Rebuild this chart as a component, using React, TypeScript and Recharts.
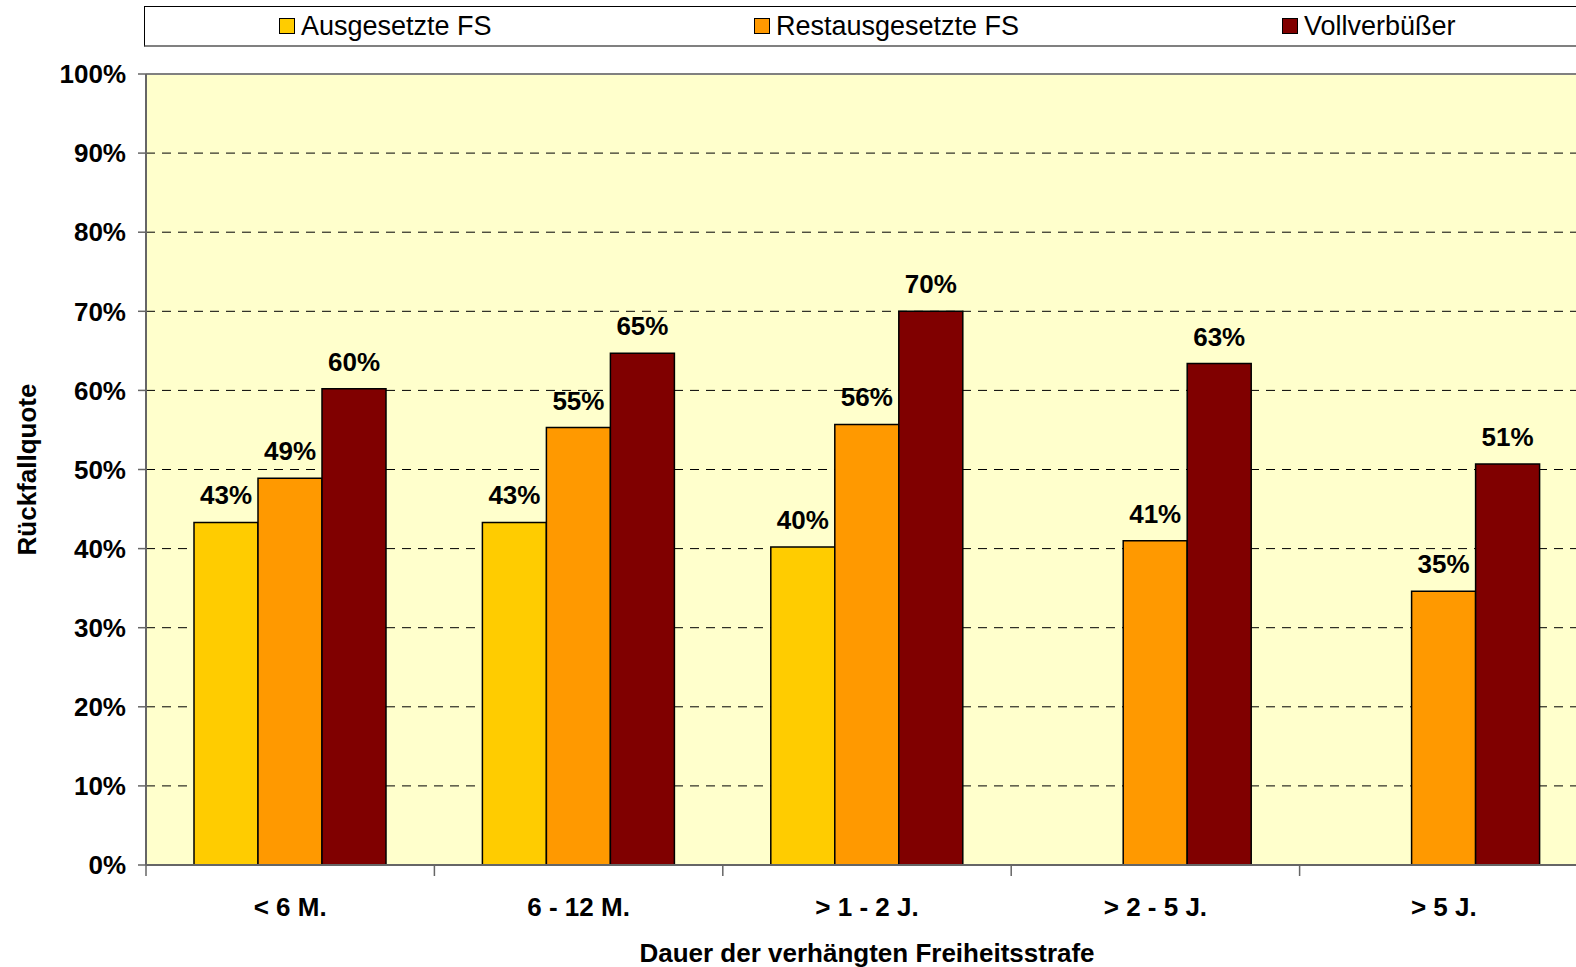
import React from "react"
import { BarChart, Bar, XAxis, YAxis, CartesianGrid, Legend, LabelList, ReferenceLine } from "recharts"

const categories = ["< 6 M.", "6 - 12 M.", "> 1 - 2 J.", "> 2 - 5 J.", "> 5 J."]
const ausgesetzt = [43.3, 43.3, 40.2, null, null]
const restausgesetzt = [48.9, 55.3, 55.7, 41.0, 34.6]
const vollverbuesser = [60.2, 64.7, 70.0, 63.4, 50.7]
const yTicks = [0, 10, 20, 30, 40, 50, 60, 70, 80, 90, 100]
const gridValues = [10, 20, 30, 40, 50, 60, 70, 80, 90]

const series = [
    { key: "aus", name: "Ausgesetzte FS", color: "#FFCC00" },
    { key: "rest", name: "Restausgesetzte FS", color: "#FF9900" },
    { key: "voll", name: "Vollverbüßer", color: "#800000" },
]

const data = categories.map((c, i) => ({
    name: c,
    aus: ausgesetzt[i],
    rest: restausgesetzt[i],
    voll: vollverbuesser[i],
}))

const FONT = '"Liberation Sans", Arial, sans-serif'
const legendLeft = [134, 609, 1137]

function LegendBox() {
    return (
        <div
            style={{
                position: "relative",
                height: 38,
                background: "#fff",
                borderTop: "1.5px solid #000",
                borderLeft: "1.5px solid #000",
                borderBottom: "2px solid #808080",
                fontFamily: FONT,
                fontSize: 27,
                color: "#000",
            }}
        >
            {series.map((s, i) => (
                <div
                    key={s.key}
                    style={{
                        position: "absolute",
                        left: legendLeft[i],
                        top: 0,
                        height: 38,
                        display: "flex",
                        alignItems: "center",
                        whiteSpace: "nowrap",
                    }}
                >
                    <span
                        style={{
                            display: "inline-block",
                            width: 14,
                            height: 14,
                            background: s.color,
                            border: "1.5px solid #000",
                            marginRight: 6,
                        }}
                    />
                    {s.name}
                </div>
            ))}
        </div>
    )
}

function XTick(props: any) {
    const { x, y, payload } = props
    const half = payload.offset || 0
    return (
        <g>
            <line x1={x - half} x2={x - half} y1={y} y2={y + 11} stroke="#666" strokeWidth={1.5} />
            <text x={x} y={y + 51} textAnchor="middle" fontFamily={FONT} fontSize={26} fontWeight="bold" fill="#000">
                {payload.value}
            </text>
        </g>
    )
}

function YTitle(props: any) {
    const vb = props.viewBox
    const cx = vb.x + 27
    const cy = vb.y + vb.height / 2
    return (
        <text
            x={cx}
            y={cy}
            transform={`rotate(-90, ${cx}, ${cy})`}
            textAnchor="middle"
            dominantBaseline="central"
            fontFamily={FONT}
            fontSize={26}
            fontWeight="bold"
            fill="#000"
        >
            Rückfallquote
        </text>
    )
}

function XTitle(props: any) {
    const vb = props.viewBox
    return (
        <text
            x={vb.x + vb.width / 2}
            y={vb.y + 97}
            textAnchor="middle"
            fontFamily={FONT}
            fontSize={26}
            fontWeight="bold"
            fill="#000"
        >
            Dauer der verhängten Freiheitsstrafe
        </text>
    )
}

const fmt = (v: any) => (v == null ? "" : `${Math.round(Number(v))}%`)

export default function App() {
    return (
        <div style={{ position: "fixed", left: 0, top: 0, width: 1576, height: 967, overflow: "hidden", background: "#fff" }}>
            <BarChart
                width={1606}
                height={967}
                data={data}
                margin={{ top: 74, right: 18, bottom: 0, left: 0 }}
                barGap={0}
                barSize={64}
            >
                <CartesianGrid
                    fill="#FFFFCC"
                    vertical={false}
                    horizontalValues={gridValues}
                    stroke="#000"
                    strokeDasharray="9 7"
                />
                <ReferenceLine y={100} stroke="#808080" strokeWidth={2} />
                <XAxis
                    dataKey="name"
                    tick={<XTick />}
                    tickLine={false}
                    tickSize={0}
                    tickMargin={0}
                    height={102}
                    axisLine={{ stroke: "#666", strokeWidth: 2 }}
                    interval={0}
                    label={<XTitle />}
                />
                <YAxis
                    domain={[0, 100]}
                    ticks={yTicks}
                    interval={0}
                    width={146}
                    tickFormatter={(v) => `${v}%`}
                    tickSize={8}
                    tickMargin={12}
                    tickLine={{ stroke: "#666", strokeWidth: 1.5 }}
                    axisLine={{ stroke: "#666", strokeWidth: 2 }}
                    tick={{ fontFamily: FONT, fontSize: 26, fontWeight: "bold", fill: "#000" }}
                    label={<YTitle />}
                />
                <Legend
                    layout="horizontal"
                    verticalAlign="middle"
                    align="center"
                    content={<LegendBox />}
                    wrapperStyle={{ top: 6, left: 144, width: 1500, height: 41 }}
                />
                {series.map((s) => (
                    <Bar
                        key={s.key}
                        dataKey={s.key}
                        name={s.name}
                        fill={s.color}
                        stroke="#000"
                        strokeWidth={1.5}
                        isAnimationActive={false}
                    >
                        <LabelList
                            dataKey={s.key}
                            position="top"
                            offset={18}
                            formatter={fmt}
                            style={{ fontFamily: FONT, fontSize: 26, fontWeight: "bold", fill: "#000" }}
                        />
                    </Bar>
                ))}
            </BarChart>
        </div>
    )
}
